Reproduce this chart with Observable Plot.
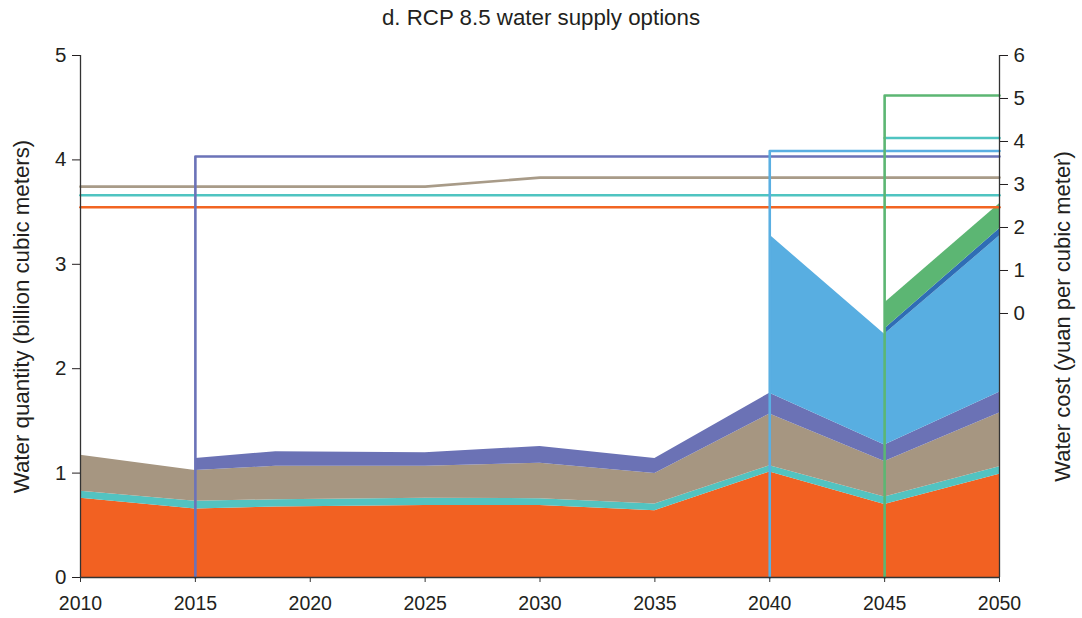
<!DOCTYPE html>
<html><head><meta charset="utf-8">
<script src="https://cdn.jsdelivr.net/npm/d3@7"></script>
<script src="https://cdn.jsdelivr.net/npm/@observablehq/plot@0.6"></script>
<style>
body{margin:0;background:#fff;font-family:"Liberation Sans",Arial,sans-serif;}
#title{height:36px;line-height:36px;text-align:center;font-size:22.3px;color:#231f20;}
#chart svg{display:block;}
</style></head><body>
<div id="title">d. RCP 8.5 water supply options</div>
<div id="chart"></div>
<script>
// ---- data (billion cubic meters, stacked layers) ----
const years = [2010, 2015, 2018.5, 2025, 2030, 2035, 2040, 2045, 2050];
const layerOrange    = [0.76, 0.655, 0.675, 0.69, 0.69, 0.64, 1.01, 0.70, 0.99];
const layerTeal      = [0.065, 0.075, 0.07, 0.07, 0.065, 0.065, 0.06, 0.07, 0.07];
const layerGray      = [0.345, 0.295, 0.32, 0.305, 0.34, 0.29, 0.495, 0.34, 0.515];
const layerPurple    = [null, 0.115, 0.14, 0.13, 0.16, 0.145, 0.2, 0.16, 0.2];
const layerLightBlue = [null, null, null, null, null, null, 1.515, 1.06, 1.495];
const layerDarkBlue  = [null, null, null, null, null, null, null, 0.05, 0.07];
const layerGreen     = [null, null, null, null, null, null, null, 0.25, 0.24];

// ---- water cost (yuan per cubic meter) ----
const costOrangeYears = [2010, 2050];       const costOrange = [2.47, 2.47];
const costTealYears   = [2010, 2050];       const costTeal   = [2.75, 2.75];
const costGrayYears   = [2010, 2025, 2030, 2050]; const costGray = [2.95, 2.95, 3.16, 3.16];
const costPurpleYears = [2015, 2050];       const costPurple = [3.65, 3.65];
const costLightBlueYears = [2040, 2050];    const costLightBlue = [3.78, 3.78];
const costTeal2Years  = [2045, 2050];       const costTeal2  = [4.08, 4.08];
const costGreenYears  = [2045, 2050];       const costGreen  = [5.07, 5.07];

const xTicks = [2010, 2015, 2020, 2025, 2030, 2035, 2040, 2045, 2050];
const qTicks = [0, 1, 2, 3, 4, 5];
const costTicks = [0, 1, 2, 3, 4, 5, 6];

// right axis domain [costMin, 6] shares the frame with quantity [0, 5]
const costMin = -6.14, costMax = 6, qMax = 5;
const toQ = r => (r - costMin) * qMax / (costMax - costMin);

const colors = {
  orange: "#F26122", teal: "#52C3C1", gray: "#A69681", purple: "#6B72B5",
  lightBlue: "#58AEE1", darkBlue: "#2F6DB5", green: "#5CB673"
};

// build stacked bands
const layers = [
  [layerOrange, colors.orange], [layerTeal, colors.teal], [layerGray, colors.gray],
  [layerPurple, colors.purple], [layerLightBlue, colors.lightBlue],
  [layerDarkBlue, colors.darkBlue], [layerGreen, colors.green]
];
const base = years.map(() => 0);
const bands = layers.map(([vals, color]) => {
  const rows = [];
  vals.forEach((v, i) => {
    if (v != null) { rows.push({year: years[i], y1: base[i], y2: base[i] + v}); base[i] += v; }
  });
  return {rows, color};
});

function costLine(ys, vs, color, fromBottom) {
  const rows = ys.map((y, i) => ({year: y, q: toQ(vs[i])}));
  if (fromBottom) rows.unshift({year: ys[0], q: 0});
  return Plot.line(rows, {x: "year", y: "q", stroke: color, strokeWidth: 2.6, curve: "linear"});
}

const marks = [];
bands.forEach(b => marks.push(Plot.areaY(b.rows, {x: "year", y1: "y1", y2: "y2", fill: b.color})));
marks.push(
  costLine(costOrangeYears, costOrange, "#F26522", false),
  costLine(costTealYears, costTeal, "#4FC4C1", false),
  costLine(costGrayYears, costGray, "#A89B88", false),
  costLine(costPurpleYears, costPurple, "#6B73B8", true),
  costLine(costLightBlueYears, costLightBlue, "#5AAFE2", true),
  costLine(costTeal2Years, costTeal2, "#4FC4C1", false),
  costLine(costGreenYears, costGreen, "#5CB673", true)
);
// axis lines
marks.push(
  Plot.ruleX([2010, 2050], {stroke: "#333", strokeWidth: 1.3}),
  Plot.ruleY([0], {stroke: "#333", strokeWidth: 1.3})
);
marks.push(
  Plot.axisX({ticks: xTicks, tickFormat: d => String(d), tickSize: 5, tickPadding: 14, fontSize: 19.5, label: null, stroke: "#333"}),
  Plot.axisY({anchor: "left", ticks: qTicks, tickFormat: d => String(d), tickSize: 8, tickPadding: 6, fontSize: 20.5, label: null}),
  Plot.axisY({anchor: "right", ticks: costTicks.map(toQ), tickFormat: (d, i) => String(costTicks[i]), tickSize: 8, tickPadding: 6, fontSize: 20.5, label: null}),
  Plot.text(["Water quantity (billion cubic meters)"], {frameAnchor: "left", textAnchor: "middle", dx: -59, rotate: -90, fontSize: 22.3, fill: "#231f20"}),
  Plot.text(["Water cost (yuan per cubic meter)"], {frameAnchor: "right", textAnchor: "middle", dx: 63, rotate: -90, fontSize: 22, fill: "#231f20"})
);

const chart = Plot.plot({
  width: 1082, height: 582,
  marginTop: 19, marginBottom: 41, marginLeft: 80, marginRight: 83,
  style: {fontFamily: "'Liberation Sans', Arial, sans-serif", color: "#231f20", background: "#fff"},
  x: {domain: [2010, 2050]},
  y: {domain: [0, qMax]},
  marks
});
document.getElementById("chart").appendChild(chart);
</script>
</body></html>
